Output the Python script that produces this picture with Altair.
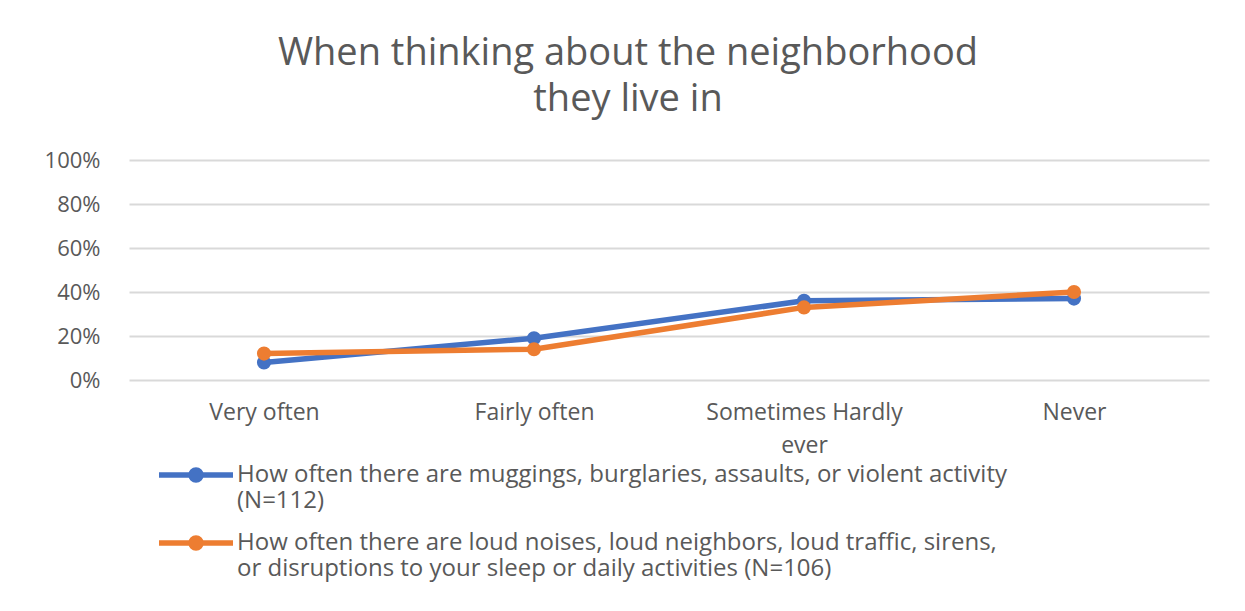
import altair as alt
import pandas as pd

categories = ["Very often", "Fairly often", "Sometimes Hardly ever", "Never"]
violent_vals = [0.08, 0.19, 0.36, 0.37]
noise_vals = [0.12, 0.14, 0.33, 0.40]
series_names = [
    "How often there are muggings, burglaries, assaults, or violent activity (N=112)",
    "How often there are loud noises, loud neighbors, loud traffic, sirens, or disruptions to your sleep or daily activities (N=106)",
]
legend_lines = [
    ["How often there are muggings, burglaries, assaults, or violent activity", "(N=112)"],
    ["How often there are loud noises, loud neighbors, loud traffic, sirens,",
     "or disruptions to your sleep or daily activities (N=106)"],
]
colors = ["#4472C4", "#ED7D31"]
y_ticks = [0, 0.2, 0.4, 0.6, 0.8, 1.0]
title_lines = ["When thinking about the neighborhood", "they live in"]

rows = []
for name, vals in zip(series_names, [violent_vals, noise_vals]):
    for c, v in zip(categories, vals):
        rows.append({"series": name, "category": c, "value": v})
df = pd.DataFrame(rows)


def js_list(lines):
    return "[" + ", ".join("'" + l + "'" for l in lines) + "]"


legend_expr = (
    f"datum.label == '{series_names[0]}' ? {js_list(legend_lines[0])} : {js_list(legend_lines[1])}"
)
x_expr = "datum.label == 'Sometimes Hardly ever' ? ['Sometimes Hardly', 'ever'] : datum.label"

FONT = "Open Sans"
GREY = "#595959"
# legend glyph: a line with a dot in the middle (unit = sqrt(symbolSize)/2 px)
symbol_path = (
    "M-3.7,0H3.7"
    "M-0.5,0A0.5,0.5 0 1,1 0.5,0A0.5,0.5 0 1,1 -0.5,0Z"
    "M-0.2,0A0.2,0.2 0 1,1 0.2,0A0.2,0.2 0 1,1 -0.2,0Z"
)

chart = (
    alt.Chart(df)
    .mark_line(strokeWidth=5.5, point=alt.OverlayMarkDef(filled=True, size=200, opacity=1))
    .encode(
        x=alt.X(
            "category:N",
            sort=categories,
            title=None,
            axis=alt.Axis(
                labelAngle=0,
                labelExpr=x_expr,
                labelFontSize=23,
                labelFont=FONT,
                labelColor=GREY,
                labelPadding=21,
                labelLineHeight=33,
                labelLimit=400,
                domain=False,
                ticks=False,
                grid=False,
            ),
        ),
        y=alt.Y(
            "value:Q",
            scale=alt.Scale(domain=[0, 1]),
            title=None,
            axis=alt.Axis(
                values=y_ticks,
                format=".0%",
                labelFontSize=22,
                labelFont=FONT,
                labelColor=GREY,
                labelPadding=29,
                domain=False,
                ticks=False,
                gridColor="#d9d9d9",
                gridWidth=2,
            ),
        ),
        color=alt.Color(
            "series:N",
            sort=series_names,
            scale=alt.Scale(domain=series_names, range=colors),
            legend=alt.Legend(
                title=None,
                orient="none",
                legendX=54,
                legendY=302,
                direction="vertical",
                symbolType=symbol_path,
                symbolSize=400,
                symbolStrokeWidth=5.5,
                labelFontSize=24,
                labelFont=FONT,
                labelColor=GREY,
                labelLimit=1200,
                labelExpr=legend_expr,
                labelBaseline="middle",
                labelOffset=28,
                rowPadding=14,
                padding=0,
            ),
        ),
    )
    .properties(
        width=1080,
        height=220,
        background="white",
        autosize=alt.AutoSizeParams(type="none"),
        padding={"left": 121, "top": 152, "right": 28, "bottom": 223},
        title=alt.TitleParams(
            title_lines,
            fontSize=38,
            font=FONT,
            color=GREY,
            fontWeight="normal",
            anchor="middle",
            dx=-41,
            offset=30,
            lineHeight=46,
        ),
    )
    .configure_view(stroke=None, strokeWidth=0)
)

chart.save("out.html", embed_options={"renderer": "svg", "actions": False})
